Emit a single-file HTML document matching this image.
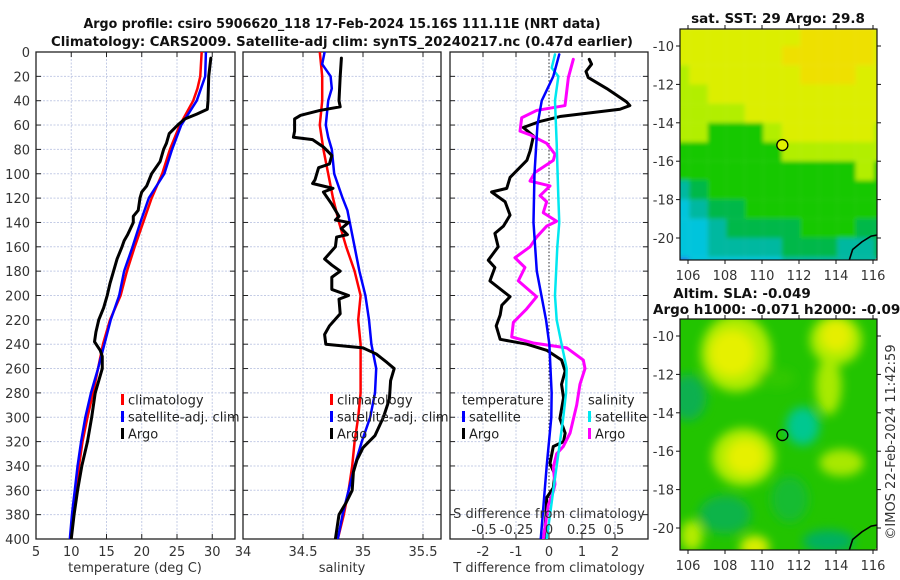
<!DOCTYPE html>
<html><head><meta charset="utf-8">
<style>
html,body{margin:0;padding:0;background:#fff;}
svg{display:block;font-family:"DejaVu Sans","Liberation Sans",sans-serif;}
</style></head>
<body>
<svg id="fig" width="900" height="580" viewBox="0 0 900 580" xmlns="http://www.w3.org/2000/svg">
<defs>
<clipPath id="c1"><rect x="36" y="52" width="199" height="487"/></clipPath>
<clipPath id="c2"><rect x="243" y="52" width="198" height="487"/></clipPath>
<clipPath id="c3"><rect x="450" y="52" width="198" height="487"/></clipPath>
<clipPath id="cm1"><rect x="680" y="29" width="197" height="231"/></clipPath>
<clipPath id="cm2"><rect x="680" y="319" width="197" height="231"/></clipPath>
<filter id="blur" x="-10%" y="-10%" width="120%" height="120%"><feGaussianBlur stdDeviation="5"/></filter>
<filter id="blur2" x="-5%" y="-5%" width="110%" height="110%"><feGaussianBlur stdDeviation="2"/></filter>
</defs>
<g id="root"></g>
</svg>
<script>
// ---- chart data ----
const depthTicks = [0,20,40,60,80,100,120,140,160,180,200,220,240,260,280,300,320,340,360,380,400];
const tempTicks = [5,10,15,20,25,30];
const salTicks = [34,34.5,35,35.5];
const salTickLabels = ["34","34.5","35","35.5"];
const tdTicks = [-2,-1,0,1,2];
const sdTicks = [-0.5,-0.25,0,0.25,0.5];
const sdTickLabels = ["-0.5","-0.25","0","0.25","0.5"];

const climDepth = [0,20,30,40,60,80,100,120,140,160,180,200,220,240,260,280,300,320,340,360,380,400];
const tempClim = [28.5,28.3,27.9,27.3,25.4,24.0,22.9,21.4,20.2,19.0,17.9,17.0,15.5,14.5,13.8,13.1,12.3,11.6,11.1,10.7,10.3,10.0];
const tempSat = [29.1,29.0,28.4,27.8,25.6,24.3,23.2,21.0,19.8,18.7,17.5,16.8,15.6,14.7,13.8,12.8,12.0,11.4,10.9,10.5,10.1,9.8];
const argoTDepth = [5,20,40,47,51,55,60,67,75,80,90,100,110,115,120,130,135,140,150,155,160,170,180,190,200,210,220,230,238,245,250,260,270,280,300,320,340,360,380,400];
const argoT = [29.8,29.5,29.4,29.3,27.8,26.1,25.1,23.9,23.5,23.1,22.6,21.4,20.7,20.0,19.75,19.5,18.8,18.8,18.0,17.5,17.2,16.5,16.0,15.5,15.1,14.6,13.9,13.5,13.3,14.1,14.4,14.4,13.9,13.4,12.9,12.3,11.5,10.9,10.4,10.0];

const salClim = [34.64,34.66,34.66,34.66,34.64,34.67,34.71,34.75,34.80,34.86,34.93,34.98,34.96,34.98,34.98,34.98,34.96,34.93,34.91,34.88,34.84,34.79];
const salSatDepth = [0,10,20,30,40,60,70,80,100,120,130,140,160,180,200,220,240,260,280,300,320,340,360,380,400];
const salSat = [34.68,34.66,34.73,34.74,34.71,34.69,34.71,34.74,34.76,34.83,34.87,34.89,34.93,34.97,35.02,35.05,35.07,35.11,35.10,35.06,34.99,34.93,34.88,34.83,34.79];
const argoSDepth = [5,20,40,45,48,52,55,65,70,72,78,85,92,95,105,108,112,115,125,135,138,140,145,150,152,160,170,175,180,185,195,200,203,215,225,232,240,243,248,255,260,270,285,300,315,325,335,345,360,370,380,400];
const argoS = [34.82,34.81,34.80,34.81,34.64,34.48,34.43,34.43,34.42,34.58,34.67,34.74,34.72,34.63,34.60,34.58,34.75,34.67,34.74,34.80,34.77,34.88,34.82,34.87,34.78,34.77,34.68,34.74,34.81,34.74,34.74,34.88,34.80,34.81,34.72,34.68,34.69,35.00,35.11,35.20,35.26,35.23,35.22,35.17,35.10,35.00,34.95,34.92,34.91,34.86,34.80,34.77];

const tSatDiffDepth = [2,20,40,60,100,140,180,220,240,280,300,340,380,400];
const tSatDiff = [0.31,0.13,-0.22,-0.35,-0.44,-0.47,-0.37,-0.09,0.01,0.08,0.07,-0.07,-0.19,-0.25];
const tArgoDiffDepth = [6,10,16,21,30,41,44,47,50,53,57,62,69,81,89,103,112,115,123,134,143,149,160,171,177,188,201,208,216,225,236,240,245,253,262,273,284,301,313,320,324,338,347,358,366,380,400];
const tArgoDiff = [1.22,1.29,1.12,1.19,1.75,2.35,2.45,2.15,1.24,0.33,-0.27,-0.78,-0.47,-0.57,-0.67,-1.18,-1.28,-1.74,-1.33,-1.18,-1.38,-1.64,-1.54,-1.84,-1.64,-1.79,-1.18,-1.43,-1.48,-1.6,-1.48,-0.67,-0.07,0.38,0.49,0.38,0.44,0.33,0.49,0.44,0.13,0.03,0.18,0.13,-0.07,-0.09,-0.15];
const sSatDiffDepth = [2,13,20,40,75,120,140,160,200,220,240,260,280,300,320,340,360,380,400];
const sSatDiff = [0.046,0.021,0.072,0.046,0.059,0.072,0.079,0.064,0.046,0.059,0.097,0.136,0.131,0.110,0.085,0.059,0.033,0.008,-0.018];
const sArgoDiffDepth = [6,21,37,44,48,54,65,68,75,84,89,99,106,110,118,123,132,139,143,152,160,169,177,188,201,211,222,234,239,243,253,260,273,290,313,324,330,341,355,361,372,390,400];
const sArgoDiff = [0.187,0.149,0.131,0.123,-0.095,-0.21,-0.223,-0.146,-0.018,0.046,0.033,-0.108,-0.146,0.008,-0.069,-0.018,-0.044,0.059,-0.018,-0.095,-0.146,-0.262,-0.185,-0.236,-0.095,-0.172,-0.274,-0.287,-0.121,0.136,0.264,0.277,0.238,0.213,0.162,0.110,0.059,0.033,0.046,0.033,-0.005,-0.03,-0.044];

// ---- axis functions ----
const yD = d => 52 + d * 1.2175;
const xT = t => 36 + (t - 5) * 7.05;
const xS = s => 243 + (s - 34) * 120;
const xTd = v => 549 + v * 33;
const xSd = v => 549 + v * 130;

const NS = "http://www.w3.org/2000/svg";
const root = document.getElementById('root');
function el(tag, attrs, parent, text) {
  const e = document.createElementNS(NS, tag);
  for (const k in attrs) e.setAttribute(k, attrs[k]);
  if (text !== undefined) e.textContent = text;
  (parent || root).appendChild(e);
  return e;
}
function grp(name, parent, extra) {
  const g = el('g', extra || {}, parent);
  
  
  return g;
}
function line(depths, vals, xf, color, w, name, parent) {
  let d = '';
  for (let i = 0; i < vals.length; i++) d += (i ? 'L' : 'M') + xf(vals[i]).toFixed(2) + ',' + yD(depths[i]).toFixed(2);
  const p = el('path', {d: d, fill: 'none', stroke: color, 'stroke-width': w, 'stroke-linejoin': 'round', 'stroke-linecap': 'round'}, parent);
  
  
  return p;
}

function panel(name, x0, x1, xTickVals, xf, xLabels, clipId, showY) {
  const g = grp(name);
  const gg = grp(name + '-grid', g);
  depthTicks.forEach(d => el('line', {x1: x0, x2: x1, y1: yD(d), y2: yD(d), stroke: '#c4cce6', 'stroke-width': 1, 'stroke-dasharray': '2,1.5'}, gg));
  xTickVals.forEach(v => el('line', {x1: xf(v), x2: xf(v), y1: 52, y2: 539, stroke: '#c4cce6', 'stroke-width': 1, 'stroke-dasharray': '2,1.5'}, gg));
  depthTicks.forEach(d => {
    el('line', {x1: x0, x2: x0 + 5, y1: yD(d), y2: yD(d), stroke: '#222', 'stroke-width': 1}, g);
    el('line', {x1: x1 - 5, x2: x1, y1: yD(d), y2: yD(d), stroke: '#222', 'stroke-width': 1}, g);
  });
  xTickVals.forEach(v => {
    el('line', {x1: xf(v), x2: xf(v), y1: 539, y2: 534, stroke: '#222', 'stroke-width': 1}, g);
    el('line', {x1: xf(v), x2: xf(v), y1: 52, y2: 57, stroke: '#222', 'stroke-width': 1}, g);
  });
  el('rect', {x: x0, y: 52, width: x1 - x0, height: 487, fill: 'none', stroke: '#222', 'stroke-width': 1.3}, g);
  if (xLabels) {
    const lg = grp(name + '-x-tick-labels', g);
    xTickVals.forEach((v, i) => el('text', {x: xf(v), y: 556, 'text-anchor': 'middle', 'font-size': 13, fill: '#333'}, lg, xLabels[i]));
  }
  if (showY) {
    const yl = grp('depth-tick-labels', g);
    depthTicks.forEach(d => el('text', {x: 30, y: yD(d) + 5, 'text-anchor': 'end', 'font-size': 13, fill: '#333'}, yl, String(d)));
  }
  return grp(name + '-series', g, {'clip-path': 'url(#' + clipId + ')'});
}

const t1 = el('text', {x: 342, y: 28, 'text-anchor': 'middle', 'font-size': 13.5, 'font-weight': 'bold', fill: '#111', textLength: 517, lengthAdjust: 'spacingAndGlyphs'}, root, 'Argo profile: csiro 5906620_118 17-Feb-2024 15.16S 111.11E (NRT data)');
 
const t2 = el('text', {x: 342, y: 46, 'text-anchor': 'middle', 'font-size': 13.5, 'font-weight': 'bold', fill: '#111', textLength: 582, lengthAdjust: 'spacingAndGlyphs'}, root, 'Climatology: CARS2009. Satellite-adj clim: synTS_20240217.nc (0.47d earlier)');
 

const s1 = panel('temperature-panel', 36, 235, tempTicks, xT, tempTicks.map(String), 'c1', true);
line(climDepth, tempClim, xT, '#ff0000', 2.5, 'temperature-climatology-line', s1);
line(climDepth, tempSat, xT, '#0000ff', 2.5, 'temperature-satellite-line', s1);
line(argoTDepth, argoT, xT, '#000', 3, 'temperature-argo-line', s1);
let a = el('text', {x: 135, y: 572, 'text-anchor': 'middle', 'font-size': 13, fill: '#333'}, root, 'temperature (deg C)');
 

const s2 = panel('salinity-panel', 243, 441, salTicks, xS, salTickLabels, 'c2', false);
line(climDepth, salClim, xS, '#ff0000', 2.5, 'salinity-climatology-line', s2);
line(salSatDepth, salSat, xS, '#0000ff', 2.5, 'salinity-satellite-line', s2);
line(argoSDepth, argoS, xS, '#000', 3, 'salinity-argo-line', s2);
a = el('text', {x: 342, y: 572, 'text-anchor': 'middle', 'font-size': 13, fill: '#333'}, root, 'salinity');
 

const s3 = panel('difference-panel', 450, 648, tdTicks, xTd, tdTicks.map(String), 'c3', false);
el('line', {x1: 549, x2: 549, y1: 52, y2: 539, stroke: '#333', 'stroke-width': 1, 'stroke-dasharray': '1.5,2'}, s3);
line(tArgoDiffDepth, tArgoDiff, xTd, '#000', 3, 'temperature-argo-difference-line', s3);
line(sArgoDiffDepth, sArgoDiff, xSd, '#ff00ff', 3, 'salinity-argo-difference-line', s3);
line(sSatDiffDepth, sSatDiff, xSd, '#00e8f0', 2.5, 'salinity-satellite-difference-line', s3);
line(tSatDiffDepth, tSatDiff, xTd, '#0000ff', 2.5, 'temperature-satellite-difference-line', s3);
a = el('text', {x: 549, y: 518, 'text-anchor': 'middle', 'font-size': 13, fill: '#333'}, root, 'S difference from climatology');
 
const sdl = grp('s-difference-tick-labels');
sdTicks.forEach((v, i) => el('text', {x: xSd(v), y: 534, 'text-anchor': 'middle', 'font-size': 13, fill: '#333'}, sdl, sdTickLabels[i]));
a = el('text', {x: 549, y: 572, 'text-anchor': 'middle', 'font-size': 13, fill: '#333'}, root, 'T difference from climatology');
 

function legend(name, x, y, entries) {
  const g = grp(name);
  entries.forEach((e, i) => {
    if (e.color) el('rect', {x: x, y: y + i * 17 - 6, width: 3, height: 11, fill: e.color}, g);
    el('text', {x: x + (e.color ? 7 : 0), y: y + i * 17 + 4.5, 'font-size': 13, fill: '#222'}, g, e.label);
  });
}
legend('temperature-legend', 121, 400, [{color: '#ff0000', label: 'climatology'}, {color: '#0000ff', label: 'satellite-adj. clim'}, {color: '#000', label: 'Argo'}]);
legend('salinity-legend', 330, 400, [{color: '#ff0000', label: 'climatology'}, {color: '#0000ff', label: 'satellite-adj. clim'}, {color: '#000', label: 'Argo'}]);
legend('difference-legend-temperature', 462, 400, [{label: ' temperature'}, {color: '#0000ff', label: 'satellite'}, {color: '#000', label: 'Argo'}]);
legend('difference-legend-salinity', 588, 400, [{label: ' salinity'}, {color: '#00e8f0', label: 'satellite'}, {color: '#ff00ff', label: 'Argo'}]);

// ---- maps ----
const lonX = lon => 688 + (lon - 106) * 18.5;
const latY1 = lat => 46 + (-10 - lat) * 19.2;
const latY2 = lat => 336 + (-10 - lat) * 19.2;
const mapColors = {O: '#eee000', Y: '#dcee00', L: '#b2ee00', G: '#14c800', D: '#00b848', T: '#00b8a0', C: '#00c4dc', B: '#1880e8'};
const sstRows = [
  "YYYYYYYOOOOY",
  "YYYYYYOOOOOY",
  "LYYYYYYOOOYY",
  "LLYYYYYYYYYY",
  "LLLLYYYYYYYY",
  "LLGGGLYYYYYL",
  "GGGGGGLLLLLL",
  "GGGGGGGGGGLG",
  "TDGGGGGGGGGG",
  "CTDDGGGGGGGG",
  "CCTDDDDGGGDD",
  "CCTTTTDDDTTD",
  "BCCCCCTTTTTT"
];
const lonLabels = [106,108,110,112,114,116];
const latLabels = [-10,-12,-14,-16,-18,-20];

function mapAxes(name, y0, y1, latY) {
  const g = grp(name + '-axes');
  el('rect', {x: 680, y: y0, width: 197, height: y1 - y0, fill: 'none', stroke: '#111', 'stroke-width': 1.2}, g);
  latLabels.forEach(l => {
    el('line', {x1: 680, x2: 676, y1: latY(l), y2: latY(l), stroke: '#111'}, g);
    el('line', {x1: 877, x2: 881, y1: latY(l), y2: latY(l), stroke: '#111'}, g);
    el('text', {x: 674, y: latY(l) + 5, 'text-anchor': 'end', 'font-size': 13, fill: '#333'}, g, String(l));
  });
  lonLabels.forEach(l => {
    el('line', {x1: lonX(l), x2: lonX(l), y1: y1, y2: y1 + 4, stroke: '#111'}, g);
    el('line', {x1: lonX(l), x2: lonX(l), y1: y0, y2: y0 - 4, stroke: '#111'}, g);
    el('text', {x: lonX(l), y: y1 + 20, 'text-anchor': 'middle', 'font-size': 13, fill: '#333'}, g, String(l));
  });
}

const m1 = grp('sst-map', root, {'clip-path': 'url(#cm1)'});
const m1b = el('g', {filter: 'url(#blur2)'}, m1);
sstRows.forEach((row, r) => {
  for (let c = 0; c < row.length; c++) {
    el('rect', {x: lonX(105.5 + c) - 8, y: latY1(-9 - r), width: 18.6, height: 19.3, fill: mapColors[row[c]]}, m1b);
  }
});
el('path', {d: 'M' + lonX(114.7) + ',' + latY1(-21.2) + ' L' + lonX(114.9) + ',' + latY1(-20.6) + ' L' + lonX(115.4) + ',' + latY1(-20.2) + ' L' + lonX(115.9) + ',' + latY1(-19.9) + ' L' + lonX(116.5) + ',' + latY1(-19.8), fill: 'none', stroke: '#000', 'stroke-width': 1.6}, m1);
el('path', {d: 'M' + lonX(116.0) + ',' + latY1(-21.2) + ' L' + lonX(116.5) + ',' + latY1(-20.8) + ' L' + lonX(116.5) + ',' + latY1(-21.2) + 'Z', fill: '#f8c090'}, m1);
let mk = el('circle', {cx: lonX(111.1), cy: latY1(-15.16), r: 5.5, fill: '#e0f000', stroke: '#000', 'stroke-width': 1.3}, root);
 
mapAxes('sst-map', 29, 260, latY1);
a = el('text', {x: 778, y: 23, 'text-anchor': 'middle', 'font-size': 13.5, 'font-weight': 'bold', fill: '#111'}, root, 'sat. SST: 29 Argo: 29.8');
 

const m2 = grp('sla-map', root, {'clip-path': 'url(#cm2)'});
el('rect', {x: 670, y: 310, width: 220, height: 250, fill: '#22c400'}, m2);
const bl = el('g', {filter: 'url(#blur)'}, m2);
const blobs = [
  [106.0,-13.2,1.0,1.2,'#10b050'], [108.0,-19.3,1.4,1.0,'#10b448'], [113.6,-20.7,1.4,0.6,'#00b060'],
  [111.5,-18.5,1.0,1.2,'#18bc30'],
  [108.6,-10.9,1.9,2.0,'#b0ec00'], [108.4,-10.9,1.2,1.2,'#e6f000'],
  [114.0,-10.2,1.4,1.3,'#b0ec00'], [114.0,-10.0,0.8,0.8,'#e6ee00'],
  [113.6,-12.6,0.7,1.5,'#a8ea00'],
  [109.0,-16.3,1.7,1.5,'#b0ec00'], [109.1,-16.3,1.0,0.9,'#e6f000'],
  [114.3,-16.6,1.2,0.7,'#a8e800'],
  [106.2,-20.4,0.6,0.8,'#b4ec00'], [109.6,-21.0,0.8,0.6,'#d8ee00'],
  [112.2,-14.7,0.9,1.0,'#00c890'], [110.8,-12.2,1.0,0.5,'#30c800']
];
blobs.forEach(b => el('ellipse', {cx: lonX(b[0]), cy: latY2(b[1]), rx: b[2] * 18.5, ry: b[3] * 19.2, fill: b[4]}, bl));
el('path', {d: 'M' + lonX(114.7) + ',' + latY2(-21.2) + ' L' + lonX(114.9) + ',' + latY2(-20.6) + ' L' + lonX(115.4) + ',' + latY2(-20.2) + ' L' + lonX(115.9) + ',' + latY2(-19.9) + ' L' + lonX(116.5) + ',' + latY2(-19.8), fill: 'none', stroke: '#000', 'stroke-width': 1.6}, m2);
el('path', {d: 'M' + lonX(116.0) + ',' + latY2(-21.2) + ' L' + lonX(116.5) + ',' + latY2(-20.8) + ' L' + lonX(116.5) + ',' + latY2(-21.2) + 'Z', fill: '#f8c090'}, m2);
mk = el('circle', {cx: lonX(111.1), cy: latY2(-15.16), r: 5.5, fill: 'none', stroke: '#000', 'stroke-width': 1.3}, root);
 
mapAxes('sla-map', 319, 550, latY2);
a = el('text', {x: 742, y: 298, 'text-anchor': 'middle', 'font-size': 13.5, 'font-weight': 'bold', fill: '#111'}, root, 'Altim. SLA: -0.049');
 
a = el('text', {x: 653, y: 314, 'font-size': 13.5, 'font-weight': 'bold', fill: '#111'}, root, 'Argo h1000: -0.071 h2000: -0.096');
 
a = el('text', {x: 0, y: 0, transform: 'translate(895,442) rotate(-90)', 'text-anchor': 'middle', 'font-size': 13, fill: '#333'}, root, '©IMOS 22-Feb-2024 11:42:59');
 
</script>
</body></html>
